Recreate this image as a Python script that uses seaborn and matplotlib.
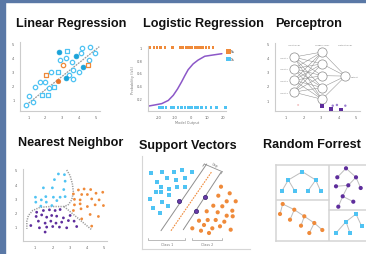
import numpy as np
import pandas as pd
import seaborn as sns
import matplotlib.pyplot as plt
from matplotlib import font_manager
from matplotlib.patches import Rectangle

W, H = 366, 255
BLUE = "#4fc3f3"
ORANGE = "#ef8a3a"
PURPLE = "#5e2d9c"
LIGHT_PURPLE = "#9b7fd0"
CURVE = "#8c58c8"
GREY = "#a8a8a8"
SPINE = "#cccccc"
BORDER = "#5a78a6"

# ---------------- data ----------------
titles = ["Linear Regression", "Logistic Regression", "Perceptron",
          "Nearest Neighbor", "Support Vectors", "Random Forrest"]

# linear regression
lin_circle_x = [0.86, 1.30, 1.02, 1.40, 1.69, 1.99, 2.24, 2.34, 2.88, 3.21, 3.43, 3.57, 3.66, 3.66, 4.10, 4.20, 4.67, 4.96, 4.61, 4.02]
lin_circle_y = [0.65, 0.82, 1.28, 1.92, 2.28, 2.23, 1.81, 2.99, 3.82, 3.94, 2.77, 3.65, 3.11, 2.49, 4.29, 4.67, 4.72, 4.29, 3.82, 2.99]
lin_square_x = [1.79, 2.18, 2.54, 2.78, 3.31]
lin_square_y = [1.33, 1.33, 1.92, 2.99, 4.48]
lin_filled_x = [2.82, 3.80, 4.22, 3.21]
lin_filled_y = [4.40, 4.12, 3.34, 2.52]
lin_orange_sq_x = [2.05, 4.55]
lin_orange_sq_y = [2.77, 3.46]
lin_orange_circle_x = [3.04]
lin_orange_circle_y = [3.46]
lin_orange_dot_x = [2.78]
lin_orange_dot_y = [2.30]
lin_fit_x = [0.75, 5.2]
lin_fit_y = [0.50, 4.76]

# logistic regression
log_pos_x = [-25.5, -23, -21, -19, -16, -11.5, -6.5, -4.8, -3.2, -1.5, 0.4, 2.5, 3.8, 5.5, 7.3, 9.3, 11.4, 13.8]
log_neg_x = [-19.5, -17.7, -15.4, -12.5, -10.8, -8, -5.8, -3.5, -1.6, 0.4, 2.5, 4.2, 6.6, 9.5, 12.7, 16, 21.6]
log_pos_y = 1.0
log_neg_y = 0.06
sig_x = [-26.9, -22.4, -18.2, -14.1, -11.0, -8.3, -5.8, -3.7, -1.7, 1.4, 4.5, 8.7, 13.9, 19.4]
sig_y = [0.08, 0.10, 0.12, 0.17, 0.25, 0.35, 0.46, 0.56, 0.65, 0.74, 0.80, 0.86, 0.88, 0.90]

# perceptron
input_x, input_y = 1.44, [4.05, 3.23, 2.40, 1.56]
hidden_x, hidden_y = 3.06, [4.41, 3.57, 2.73, 1.89, 1.05]
output_x, output_y = 4.40, [2.70]
layer_names = ["Input layer", "Hidden layer", "Output layer"]
perc_dark_x = [3.06, 3.59, 4.16]
perc_dark_y = [0.60, 0.37, 0.32]
perc_light_x = [3.67, 3.91, 4.39]
perc_light_y = [0.60, 0.65, 0.60]
perc_pink_x = [1.69]
perc_pink_y = [0.65]

# nearest neighbour
nn_blue_x = [2.35, 2.70, 2.12, 2.74, 1.48, 2.00, 2.66, 1.02, 1.36, 1.62, 2.06, 2.45, 2.74, 1.04, 1.65, 2.26, 1.33, 1.97]
nn_blue_y = [4.71, 4.66, 4.31, 4.20, 3.73, 3.73, 3.61, 3.07, 2.88, 3.11, 3.07, 3.07, 3.11, 2.72, 2.72, 2.83, 2.44, 2.48]
nn_orange_x = [3.51, 3.84, 4.22, 3.22, 3.70, 4.03, 4.53, 4.92, 3.28, 3.61, 4.28, 4.71, 3.28, 3.61, 4.03, 4.48, 4.96, 3.22, 3.66, 4.19, 4.67, 3.70, 4.28]
nn_orange_y = [3.58, 3.65, 3.61, 3.30, 3.26, 3.26, 3.35, 3.42, 2.92, 2.88, 2.95, 2.88, 2.53, 2.60, 2.41, 2.53, 2.48, 2.13, 2.25, 1.85, 1.71, 1.54, 1.03]
nn_purple_x = [1.09, 1.48, 1.83, 2.16, 2.45, 1.06, 1.38, 1.67, 1.96, 2.25, 2.64, 3.03, 0.75, 1.19, 1.58, 1.91, 2.21, 2.54, 2.93, 3.26, 1.25, 1.67, 2.02, 2.41, 2.83, 3.41, 1.58]
nn_purple_y = [2.01, 2.13, 2.18, 2.13, 2.20, 1.71, 1.82, 1.66, 1.78, 1.73, 1.61, 1.78, 1.07, 1.38, 1.24, 1.38, 1.24, 1.31, 1.42, 1.38, 0.91, 0.96, 1.00, 0.96, 0.91, 1.00, 0.61]
nn_edge_a_x = [2.83, 3.03, 3.16, 3.22, 3.12, 2.93, 2.68]
nn_edge_a_y = [4.99, 4.59, 4.01, 3.42, 2.88, 2.55, 2.41]
nn_edge_b_x = [2.68, 1.87, 1.29, 0.86, 0.61, 0.52, 0.52]
nn_edge_b_y = [2.41, 2.41, 2.36, 2.13, 1.78, 1.38, 0.84]
nn_edge_c_x = [2.68, 4.28]
nn_edge_c_y = [2.41, 0.77]

# support vectors
sv_blue_x = [0.93, 2.06, 3.26, 4.00, 5.00, 1.50, 2.56, 3.43, 4.33, 1.93, 2.76, 3.50, 4.33, 1.40, 1.93, 2.76, 0.83, 2.00, 2.66, 1.16, 1.86]
sv_blue_y = [7.60, 7.67, 7.67, 7.93, 7.73, 6.73, 7.07, 6.93, 7.07, 6.17, 6.00, 6.17, 6.23, 5.67, 5.67, 5.43, 5.00, 4.73, 4.27, 4.10, 3.60]
sv_orange_x = [7.93, 8.80, 7.66, 8.50, 9.40, 7.16, 8.06, 9.06, 6.50, 7.60, 8.50, 9.10, 5.73, 6.60, 7.40, 8.26, 6.23, 7.06, 7.83, 8.90, 5.06, 5.93, 6.73]
sv_orange_y = [6.23, 5.57, 5.33, 4.77, 4.77, 4.33, 4.27, 3.83, 3.77, 3.67, 3.33, 3.27, 2.83, 2.90, 2.90, 2.73, 2.40, 2.07, 2.27, 1.93, 2.07, 1.83, 1.60]
sv_support_x = [3.76, 6.33, 5.43]
sv_support_y = [4.77, 5.17, 3.83]
sv_margin1_x, sv_margin1_y = [1.93, 6.50], [1.83, 8.50]
sv_hyper_x, sv_hyper_y = [2.93, 7.00], [1.83, 7.73]
sv_margin2_x, sv_margin2_y = [4.16, 7.93], [1.93, 7.67]
sv_gap_x, sv_gap_y = [6.26, 8.06], [8.50, 7.73]
sv_class_names = ["Class 1", "Class 2"]
sv_class_span = [(0.66, 4.33), (5.06, 8.06)]

# random forest trees
tree_tl_x = [2.63, 1.23, 3.97, 0.57, 1.90, 3.17, 4.47]
tree_tl_y = [6.93, 6.10, 6.10, 4.97, 4.97, 4.97, 4.97]
tree_tl_edges = [(0, 1), (0, 2), (1, 3), (1, 4), (2, 5), (2, 6)]
tree_bl_x = [0.67, 1.83, 2.83, 3.83, 4.63, 0.40, 1.40, 2.50, 3.33]
tree_bl_y = [3.70, 3.13, 2.47, 1.80, 1.10, 2.70, 2.13, 1.53, 0.80]
tree_bl_edges = [(0, 1), (1, 2), (2, 3), (3, 4), (0, 5), (1, 6), (2, 7), (3, 8)]
tree_tr_x = [7.00, 6.13, 8.00, 6.00, 7.23, 8.47, 6.67, 7.73, 6.23]
tree_tr_y = [7.27, 6.37, 6.37, 5.47, 5.57, 5.30, 4.47, 3.93, 3.43]
tree_tr_edges = [(0, 1), (0, 2), (2, 4), (2, 5), (4, 3), (4, 6), (6, 7), (6, 8)]
tree_br_x = [8.00, 7.00, 8.57, 6.00, 7.40]
tree_br_y = [2.70, 1.93, 1.47, 0.80, 0.80]
tree_br_edges = [(0, 1), (0, 2), (1, 3), (1, 4)]

# ---------------- setup ----------------
sns.set_theme(style="white")
plt.rcParams["font.family"] = ["DejaVu Sans"]
installed = {f.name for f in font_manager.fontManager.ttflist}
if "Liberation Sans Narrow" in installed:
    title_font, title_size = "Liberation Sans Narrow", 10.2
else:
    title_font, title_size = "Liberation Sans", 9.1

fig = plt.figure(figsize=(W / 100, H / 100), dpi=100)
fig.patch.set_facecolor("white")


def panel(left, top, right, bottom):
    return fig.add_axes([left / W, 1 - bottom / H, (right - left) / W, (bottom - top) / H])


def tiny_axes(ax, xlim, ylim, xticks, yticks, yticklabels=None):
    ax.set_xlim(*xlim)
    ax.set_ylim(*ylim)
    ax.set_facecolor("none")
    for s in ["top", "right"]:
        ax.spines[s].set_visible(False)
    for s in ["left", "bottom"]:
        ax.spines[s].set_color(SPINE)
        ax.spines[s].set_linewidth(0.8)
    ax.set_xticks(xticks)
    ax.set_yticks(yticks)
    ax.set_xticklabels([str(t) for t in xticks])
    ax.set_yticklabels(yticklabels if yticklabels else [str(t) for t in yticks])
    ax.tick_params(axis="both", labelsize=2.6, colors="#666666", length=1.5, width=0.4, pad=1.5)
    ax.tick_params(axis="y", length=0, pad=4)
    ax.set_xlabel("")
    ax.set_ylabel("")


def scatter(ax, x, y, **kw):
    sns.scatterplot(x=x, y=y, ax=ax, legend=False, **kw)


# borders
fig.add_artist(Rectangle((0, 0), 5 / W, 1, transform=fig.transFigure, color=BORDER, zorder=0))
fig.add_artist(Rectangle((0, 1 - 3 / H), 1, 3 / H, transform=fig.transFigure, color=BORDER, zorder=0))

# titles (centre x, baseline y in pixels)
title_pos = [(71, 26.5), (203.5, 26.5), (309, 26.5), (71, 146.5), (187.5, 148.5), (311.5, 148)]
for t, (tx, ty) in zip(titles, title_pos):
    fig.text(tx / W, 1 - ty / H, t, family=title_font, fontweight="bold",
             fontsize=title_size, color="#111111", ha="center", va="baseline")

# ---- Linear regression ----
ax = panel(20, 43, 100, 111.7)
tiny_axes(ax, (0.51, 5.24), (0.22, 5.09), [1, 2, 3, 4, 5], [1, 2, 3, 4, 5])
ax.plot(lin_fit_x, lin_fit_y, color="#9a9a9a", lw=0.9, ls=(0, (1.5, 0.8)), zorder=1)
scatter(ax, lin_circle_x, lin_circle_y, marker="o", s=10, facecolor="white", edgecolor=BLUE, linewidth=0.9, zorder=2)
scatter(ax, lin_square_x, lin_square_y, marker="s", s=12, facecolor="white", edgecolor=BLUE, linewidth=0.9, zorder=2)
scatter(ax, lin_filled_x, lin_filled_y, marker="o", s=12, color="#1aa3d9", edgecolor="#1aa3d9", linewidth=0.5, zorder=3)
scatter(ax, lin_orange_sq_x, lin_orange_sq_y, marker="s", s=12, facecolor="white", edgecolor=ORANGE, linewidth=0.9, zorder=3)
scatter(ax, lin_orange_circle_x, lin_orange_circle_y, marker="o", s=10, facecolor="white", edgecolor=ORANGE, linewidth=0.9, zorder=3)
scatter(ax, lin_orange_dot_x, lin_orange_dot_y, marker="o", s=12, color="#e8752a", edgecolor="#e8752a", zorder=3)

# ---- Logistic regression ----
ax = panel(147.7, 46.7, 225.7, 112.3)
tiny_axes(ax, (-27, 21.8), (0.0, 1.025), [-20, -10, 0, 10, 20], [0.2, 0.4, 0.6, 0.8, 1],
          ["0.2", "0.4", "0.6", "0.8", "1"])
ax.plot(sig_x, sig_y, color=CURVE, lw=1.1, zorder=2, solid_capstyle="round")
sns.scatterplot(x=log_pos_x, y=[log_pos_y] * len(log_pos_x), ax=ax, marker="s", s=3,
                color=ORANGE, edgecolor="none", label="5s", clip_on=False, zorder=3)
sns.scatterplot(x=log_neg_x, y=[log_neg_y] * len(log_neg_x), ax=ax, marker="s", s=3,
                color=BLUE, edgecolor="none", label="1s", clip_on=False, zorder=3)
ax.legend(loc="upper left", bbox_to_anchor=(1.0, 0.97), fontsize=2.3, frameon=False,
          handletextpad=0.1, labelspacing=1.1, markerscale=2.0, borderpad=0, handlelength=1)
ax.set_ylabel("Probability (Is5)", fontsize=2.5, color="#777777", labelpad=1)
ax.set_xlabel("Model Output", fontsize=2.5, color="#777777", labelpad=0.5)

# ---- Perceptron ----
ax = panel(274.7, 44, 360, 112.3)
tiny_axes(ax, (0.35, 5.23), (0.2, 5.05), [1, 2, 3, 4, 5], [1, 2, 3, 4, 5])
for iy in input_y:
    for hy in hidden_y:
        ax.plot([input_x, hidden_x], [iy, hy], color="#8a8a8a", lw=0.35, zorder=1)
for hy in hidden_y:
    for oy in output_y:
        ax.plot([hidden_x, output_x], [hy, oy], color="#8a8a8a", lw=0.35, zorder=1)
node_kw = dict(marker="o", s=44, facecolor="white", edgecolor="#8a8a8a", linewidth=0.5, zorder=2)
scatter(ax, [input_x] * len(input_y), input_y, **node_kw)
scatter(ax, [hidden_x] * len(hidden_y), hidden_y, **node_kw)
scatter(ax, [output_x] * len(output_y), output_y, **node_kw)
for i, iy in enumerate(input_y):
    ax.text(input_x - 0.33, iy, f"Input {i + 1}", fontsize=1.6, color="#777777", ha="right", va="center")
ax.text(output_x + 0.33, output_y[0], "Output", fontsize=1.6, color="#777777", ha="left", va="center")
for name, lx in zip(layer_names, [input_x, hidden_x, output_x]):
    ax.text(lx, 4.94, name, fontsize=1.6, color="#777777", ha="center", va="center")
scatter(ax, perc_dark_x, perc_dark_y, marker="s", s=8, color=PURPLE, edgecolor="none", zorder=3)
scatter(ax, perc_light_x, perc_light_y, marker="o", s=3, color=LIGHT_PURPLE, edgecolor="none", zorder=3)
scatter(ax, perc_pink_x, perc_pink_y, marker="o", s=2, color="#f3c4c4", edgecolor="none", zorder=3)

# ---- Nearest neighbor ----
ax = panel(22.7, 170, 106.7, 241.7)
tiny_axes(ax, (0.28, 5.15), (0.0, 5.06), [1, 2, 3, 4, 5], [1, 2, 3, 4, 5])
for bx, by in [(nn_edge_a_x, nn_edge_a_y), (nn_edge_b_x, nn_edge_b_y), (nn_edge_c_x, nn_edge_c_y)]:
    ax.plot(bx, by, color="#9c9c9c", lw=1.1, ls=(0, (0.8, 0.8)), zorder=1)
scatter(ax, nn_blue_x, nn_blue_y, marker="o", s=4, color=BLUE, edgecolor="none", zorder=2)
scatter(ax, nn_orange_x, nn_orange_y, marker="o", s=4, color=ORANGE, edgecolor="none", zorder=2)
scatter(ax, nn_purple_x, nn_purple_y, marker="o", s=4, color=PURPLE, edgecolor="none", zorder=2)

# ---- Support vectors ----
ax = panel(141.7, 156.7, 250, 250)
ax.set_xlim(0, 10.83)
ax.set_ylim(0, 9.33)
ax.set_xticks([])
ax.set_yticks([])
ax.set_facecolor("none")
for s in ["top", "right"]:
    ax.spines[s].set_visible(False)
for s in ["left", "bottom"]:
    ax.spines[s].set_color("#d6d6d6")
    ax.spines[s].set_linewidth(0.8)
ax.plot(sv_margin1_x, sv_margin1_y, color="#8f8f8f", lw=0.7, zorder=1)
ax.plot(sv_margin2_x, sv_margin2_y, color="#8f8f8f", lw=0.7, zorder=1)
ax.plot(sv_hyper_x, sv_hyper_y, color=ORANGE, lw=0.8, ls=(0, (1.5, 1)), zorder=1)
ax.plot(sv_gap_x, sv_gap_y, color="#8f8f8f", lw=0.6)
for gx, gy in zip(sv_gap_x, sv_gap_y):
    ax.plot([gx, gx - 0.15], [gy, gy - 0.22], color="#8f8f8f", lw=0.6)
ax.text(np.mean(sv_gap_x) + 0.1, np.mean(sv_gap_y) + 0.35, "Gap", fontsize=2.4, color="#777777",
        ha="center", va="center", rotation=-23)
scatter(ax, sv_blue_x, sv_blue_y, marker="s", s=9, color=BLUE, edgecolor="none", zorder=2)
scatter(ax, sv_orange_x, sv_orange_y, marker="o", s=9, color=ORANGE, edgecolor="none", zorder=2)
scatter(ax, sv_support_x, sv_support_y, marker="o", s=9, color="#6a3aa8", edgecolor="#2d1b6b", linewidth=0.5, zorder=3)
for name, (c0, c1) in zip(sv_class_names, sv_class_span):
    ax.plot([c0, c0, c1, c1], [1.15, 0.93, 0.93, 1.15], color="#b0b0b0", lw=0.6)
    ax.text((c0 + c1) / 2, 0.45, name, fontsize=2.4, color="#777777", ha="center", va="center")

# ---- Random forest ----
ax = panel(276, 166, 376, 242)
ax.set_xlim(0, 10)
ax.set_ylim(0, 7.6)
ax.set_xticks([])
ax.set_yticks([])
ax.set_facecolor("none")
ax.spines["right"].set_visible(False)
for s in ["left", "top", "bottom"]:
    ax.spines[s].set_color("#d4d4d4")
    ax.spines[s].set_linewidth(1.1)
ax.axvline(5.33, color="#d4d4d4", lw=1.1)
ax.plot([0, 5.33], [4.1, 4.1], color="#d4d4d4", lw=1.1)
ax.plot([5.33, 10], [3.1, 3.1], color="#d4d4d4", lw=1.1)
trees = [
    (tree_tl_x, tree_tl_y, tree_tl_edges, BLUE, "s"),
    (tree_bl_x, tree_bl_y, tree_bl_edges, ORANGE, "o"),
    (tree_tr_x, tree_tr_y, tree_tr_edges, PURPLE, "o"),
    (tree_br_x, tree_br_y, tree_br_edges, BLUE, "s"),
]
for tx, ty, edges, col, mk in trees:
    for i, j in edges:
        ax.plot([tx[i], tx[j]], [ty[i], ty[j]], color="#bdbdbd", lw=0.7, zorder=1)
    scatter(ax, tx, ty, marker=mk, s=9, color=col, edgecolor="none", zorder=2)

fig.savefig("out.png", dpi=100, facecolor="white")
